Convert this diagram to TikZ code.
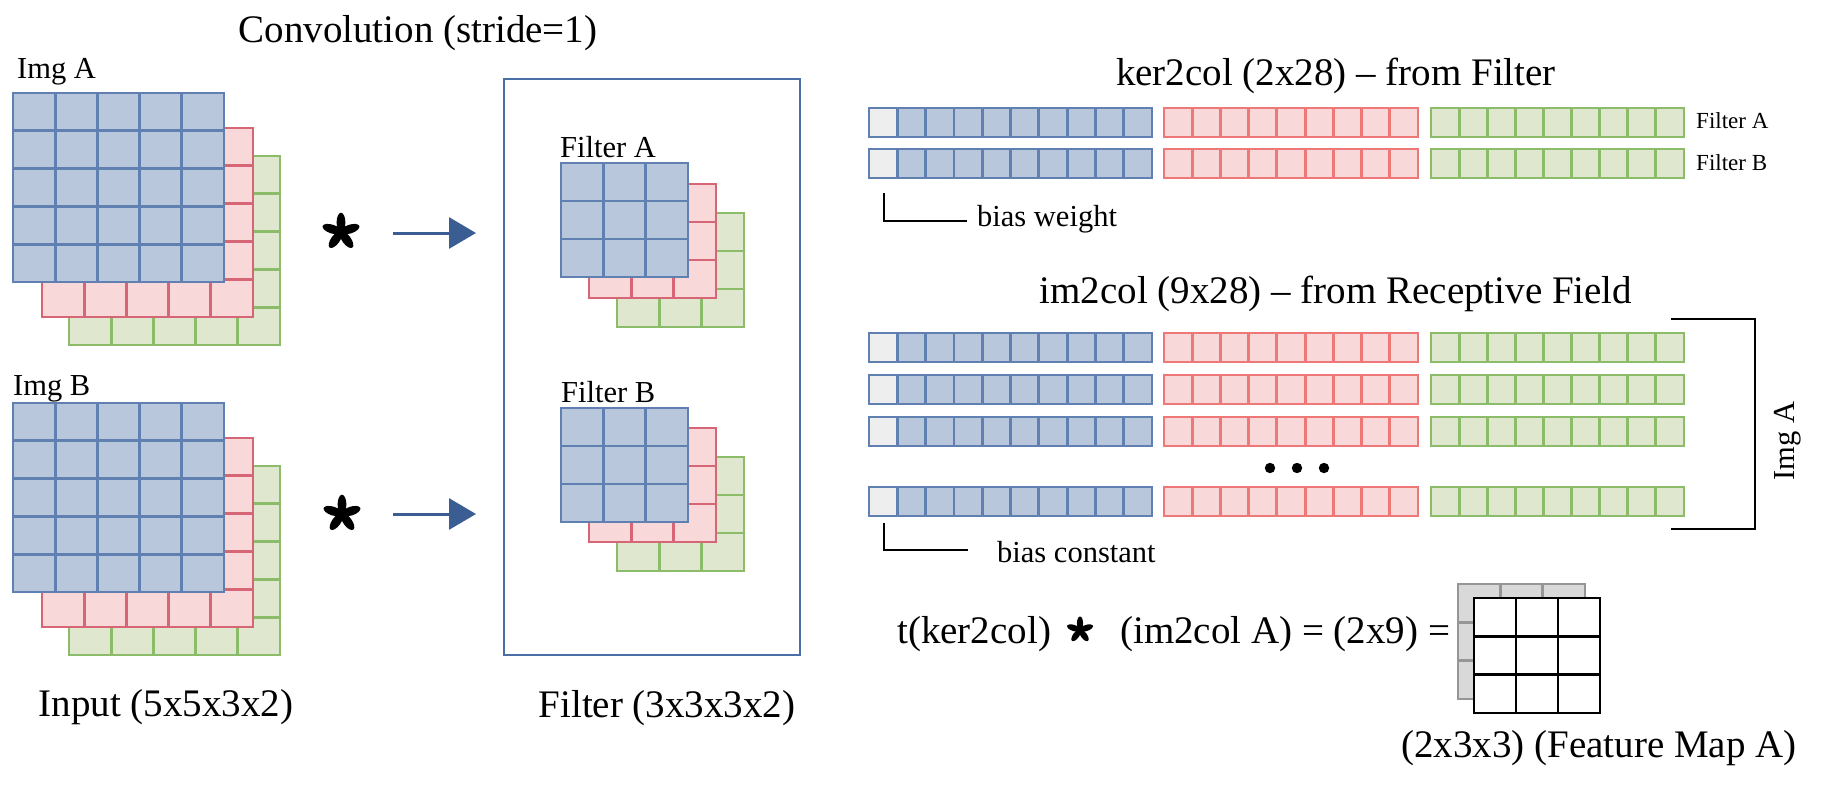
\documentclass[tikz,border=0pt]{standalone}
\usepackage{fontspec}
\setmainfont{Liberation Serif}
\usetikzlibrary{arrows.meta}
\definecolor{blueFill}{RGB}{184,199,219}
\definecolor{blueLine}{RGB}{96,128,178}
\definecolor{redFill}{RGB}{248,216,216}
\definecolor{redLine}{RGB}{214,102,118}
\definecolor{redLineB}{RGB}{238,120,120}
\definecolor{greenFill}{RGB}{223,232,207}
\definecolor{greenLine}{RGB}{140,188,106}
\definecolor{biasFill}{RGB}{238,238,238}
\definecolor{boxLine}{RGB}{74,110,165}
\definecolor{arrowCol}{RGB}{58,94,148}
\definecolor{grayFill}{RGB}{217,217,217}
\definecolor{grayLine}{RGB}{150,150,150}
\newcommand{\mygrid}[7]{%
  \foreach \ii in {1,...,#3}{\foreach \jj in {1,...,#4}{%
    \draw[#7] ({#1+(\ii-1)*#5},{#2+(\jj-1)*#6}) rectangle ++(#5,#6);}}}
\newcommand{\vecrow}[1]{%
  \mygrid{869}{#1}{10}{1}{28.3}{29}{bluecell}
  \draw[biascell] (869,#1) rectangle ++(28.3,29);
  \mygrid{1164}{#1}{9}{1}{28.22}{29}{redcellB}
  \mygrid{1431}{#1}{9}{1}{28.1}{29}{greencell}}
\newcommand{\myast}[3]{%
  \begin{scope}[shift={(#1,#2)},scale=#3]
    \foreach \a in {90,162,18,234,306}{\fill[rotate=\a] (9.5,0) ellipse (9.8 and 4.4);}
  \end{scope}}
\begin{document}
\begin{tikzpicture}[x=1pt,y=-1pt,
  bluecell/.style={draw=blueLine,fill=blueFill,line width=2.8pt},
  redcell/.style={draw=redLine,fill=redFill,line width=2.8pt},
  redcellB/.style={draw=redLineB,fill=redFill,line width=2.8pt},
  greencell/.style={draw=greenLine,fill=greenFill,line width=2.8pt},
  biascell/.style={draw=blueLine,fill=biasFill,line width=2.8pt},
  graycell/.style={draw=grayLine,fill=grayFill,line width=2.6pt},
  fmcell/.style={draw=black,fill=white,line width=2.8pt},
  big/.style={inner sep=0pt,font=\fontsize{39}{44}\selectfont},
  mid/.style={inner sep=0pt,font=\fontsize{30.5}{36}\selectfont},
  small/.style={inner sep=0pt,font=\fontsize{23}{28}\selectfont},
  arr/.style={draw=arrowCol,line width=3pt,-{Triangle[length=27pt,width=31pt]}},
  brk/.style={draw=black,line width=2.8pt}]
\useasboundingbox (0,0) rectangle (1826,788);
% ---- title
\node[big,anchor=base] (title) at (418,42) {Convolution (stride=1)};
% ---- Img A
\node[mid,anchor=base west] (imgA) at (17,78) {Img A};
\mygrid{69}{156}{5}{5}{42.2}{37.8}{greencell}
\mygrid{42}{128}{5}{5}{42.2}{37.8}{redcell}
\mygrid{13}{93}{5}{5}{42.2}{37.8}{bluecell}
% ---- Img B
\node[mid,anchor=base west] (imgB) at (13,395) {Img B};
\mygrid{69}{466}{5}{5}{42.2}{37.8}{greencell}
\mygrid{42}{438}{5}{5}{42.2}{37.8}{redcell}
\mygrid{13}{403}{5}{5}{42.2}{37.8}{bluecell}
\node[big,anchor=base] (inputlbl) at (166,716) {Input (5x5x3x2)};
% ---- asterisks and arrows
\myast{341}{232}{1}
\myast{342}{514}{1}
\coordinate (a1s) at (393,233);
\coordinate (a1e) at (476,233);
\coordinate (a2s) at (393,514);
\coordinate (a2e) at (476,514);
\draw[arr] (a1s) -- (a1e);
\draw[arr] (a2s) -- (a2e);
% ---- filter box
\draw[draw=boxLine,line width=2.8pt] (504,79) rectangle (800,655);
\node[mid,anchor=base west] (filtA) at (560,157) {Filter A};
\mygrid{617}{213}{3}{3}{42.33}{38}{greencell}
\mygrid{589}{184}{3}{3}{42.33}{38}{redcell}
\mygrid{561}{163}{3}{3}{42.33}{38}{bluecell}
\node[mid,anchor=base west] (filtB) at (561,402) {Filter B};
\mygrid{617}{457}{3}{3}{42.33}{38}{greencell}
\mygrid{589}{428}{3}{3}{42.33}{38}{redcell}
\mygrid{561}{408}{3}{3}{42.33}{38}{bluecell}
\node[big,anchor=base] (filtlbl) at (667,717) {Filter (3x3x3x2)};
% ---- ker2col
\node[big,anchor=base] (kertitle) at (1336,85) {ker2col (2x28) -- from Filter};
\vecrow{108}
\vecrow{149}
\node[small,anchor=base west] (kfa) at (1696,128) {Filter A};
\node[small,anchor=base west] (kfb) at (1696,170) {Filter B};
\draw[brk] (884,193) -- (884,221) -- (967,221);
\node[mid,anchor=base west] (bw) at (977,226) {bias weight};
% ---- im2col
\node[big,anchor=base] (imtitle) at (1336,303) {im2col (9x28) -- from Receptive Field};
\vecrow{333}
\vecrow{375}
\vecrow{417}
\vecrow{487}
\fill (1270,468) circle (5.2) (1297,468) circle (5.2) (1324,468) circle (5.2);
\draw[brk] (884,523) -- (884,550) -- (968,550);
\node[mid,anchor=base west] (bc) at (997,562) {bias constant};
\draw[brk] (1671,319) -- (1755,319) -- (1755,529) -- (1671,529);
\node[mid,rotate=90] (imgAr) at (1788,441) {Img A};
% ---- equation
\node[big,anchor=base west] (eq1) at (897,643) {t(ker2col)};
\myast{1080}{630}{0.7}
\node[big,anchor=base west] (eq2) at (1120,643) {(im2col A) = (2x9) =};
\mygrid{1458}{584}{3}{3}{42.3}{38.3}{graycell}
\mygrid{1474}{598}{3}{3}{42}{38.3}{fmcell}
\node[big,anchor=base] (fmlbl) at (1599,757) {(2x3x3) (Feature Map A)};
\end{tikzpicture}
\end{document}
